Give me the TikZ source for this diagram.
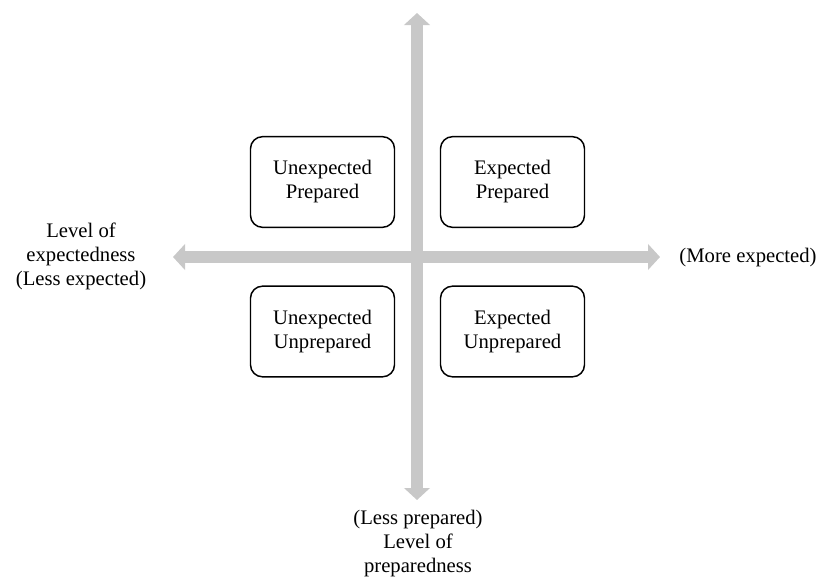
\documentclass[tikz,border=0pt]{standalone}
\usepackage{fontspec}
\setmainfont{Liberation Serif}
\usetikzlibrary{arrows.meta}
\begin{document}
\begin{tikzpicture}[x=0.75pt,y=-0.75pt,
  axis/.style={draw={rgb,255:red,200;green,200;blue,200},line width=9pt,
    {Triangle[width=19pt,length=9pt]}-{Triangle[width=19pt,length=9pt]}},
  quad/.style={draw=black,line width=1.1pt,rounded corners=9pt,minimum width=108pt,minimum height=68pt,align=center,font=\fontsize{15.5}{18}\selectfont},
  lbl/.style={align=center,font=\fontsize{15.5}{18}\selectfont,inner sep=0pt}]
\useasboundingbox (0,0) rectangle (827,578);
\coordinate (vt) at (417,13);
\coordinate (vb) at (417,500);
\coordinate (hl) at (173,257);
\coordinate (hr) at (660,257);
\draw[axis] (vb) -- (vt);
\draw[axis] (hl) -- (hr);
\node[quad] (up) at (322.5,182) {Unexpected\\Prepared};
\node[quad] (ep) at (512.5,182) {Expected\\Prepared};
\node[quad] (uu) at (322.5,331.5) {Unexpected\\Unprepared};
\node[quad] (eu) at (512.5,331.5) {Expected\\Unprepared};
\node[lbl] (ll) at (81,256) {Level of\\expectedness\\(Less expected)};
\node[lbl] (rl) at (748,258) {(More expected)};
\node[lbl] (bl) at (418,544) {(Less prepared)\\Level of\\preparedness};
\end{tikzpicture}
\end{document}
